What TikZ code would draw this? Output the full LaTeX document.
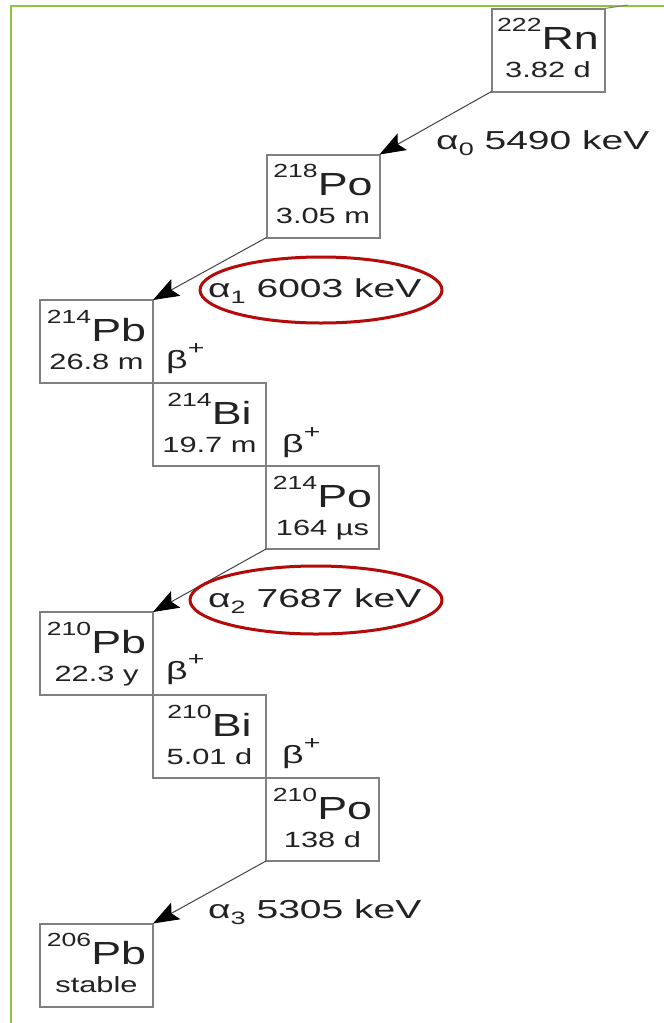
\documentclass[tikz,border=0pt]{standalone}
\usepackage{fontspec}
\setmainfont{Liberation Sans}
\newfontfamily\boxfont[FakeStretch=1.4]{Liberation Sans}
\newfontfamily\lblfont[FakeStretch=1.5]{Liberation Sans}
\usetikzlibrary{arrows.meta}
\definecolor{frame}{HTML}{8CC63F}
\definecolor{boxgray}{HTML}{808080}
\definecolor{ink}{HTML}{222222}
\definecolor{ring}{HTML}{B40A0A}
\newcommand{\nuc}[3]{{\boxfont\fontsize{32}{32}\selectfont\raisebox{18pt}{\fontsize{19}{19}\selectfont #1}#2}}
\newcommand{\halflife}[1]{{\boxfont\fontsize{22}{22}\selectfont #1}}
\newcommand{\alab}[2]{{\lblfont\fontsize{26}{26}\selectfont α\raisebox{-6pt}{\fontsize{18}{18}\selectfont #1} #2 keV}}
\newcommand{\betaplus}{{\lblfont\fontsize{25}{25}\selectfont β\raisebox{14pt}{\fontsize{19}{19}\selectfont +}}}
\begin{document}
\begin{tikzpicture}[x=1pt,y=-1pt,
  nucbox/.style={draw=boxgray,line width=2pt,fill=white,minimum width=113pt,minimum height=83pt,inner sep=0pt,outer sep=0pt},
  txt/.style={text=ink,inner sep=0pt,anchor=base},
  lbl/.style={text=ink,inner sep=0pt,anchor=base west},
  decay/.style={draw=ink!85,line width=1pt,-{Stealth[length=26pt,width=19pt,inset=5pt,color=black]}},
  ringstyle/.style={draw=ring,line width=3pt}]
\useasboundingbox (0,0) rectangle (664,1023);
\fill[white] (0,0) rectangle (664,1023);
% frame
\draw[frame,line width=2.5pt] (11,1023) -- (11,6) -- (664,6);
% boxes
\node[nucbox] (Rn) at (548,50) {};
\node[nucbox] (Po218) at (323,196) {};
\node[nucbox] (Pb214) at (96.5,341.5) {};
\node[nucbox] (Bi214) at (209.5,424.5) {};
\node[nucbox] (Po214) at (322.5,507.5) {};
\node[nucbox] (Pb210) at (96.5,653.5) {};
\node[nucbox] (Bi210) at (209.5,736.5) {};
\node[nucbox] (Po210) at (322.5,819.5) {};
\node[nucbox] (Pb206) at (96.5,965) {};
% incoming line from above
\coordinate (RaIn) at (628,5);
\draw[boxgray,line width=1pt] (RaIn) -- (Rn.north east);
% box texts
\foreach \b/\m/\e/\h in {Rn/222/Rn/3.82 d,Po218/218/Po/3.05 m,Pb214/214/Pb/26.8 m,Bi214/214/Bi/19.7 m,Po214/214/Po/164 µs,Pb210/210/Pb/22.3 y,Bi210/210/Bi/5.01 d,Po210/210/Po/138 d,Pb206/206/Pb/stable}{
  \node[txt] (\b-sym) at ([yshift=-41pt]\b.north) {\nuc{\m}{\e}{}};
  \node[txt] (\b-hl) at ([yshift=-69pt]\b.north) {\halflife{\h}};
}
% alpha decays
\draw[decay] (Rn.south west) -- (Po218.north east);
\draw[decay] (Po218.south west) -- (Pb214.north east);
\draw[decay] (Po214.south west) -- (Pb210.north east);
\draw[decay] (Po210.south west) -- (Pb206.north east);
\node[lbl] (a0) at (436,149) {\alab{0}{5490}};
\node[lbl] (a1) at (208,297) {\alab{1}{6003}};
\node[lbl] (a2) at (208,607) {\alab{2}{7687}};
\node[lbl] (a3) at (208,918) {\alab{3}{5305}};
% beta labels
\node[lbl] (b1) at (166,368) {\betaplus};
\node[lbl] (b2) at (282,452) {\betaplus};
\node[lbl] (b3) at (166,679) {\betaplus};
\node[lbl] (b4) at (282,763) {\betaplus};
% highlight ellipses
\draw[ringstyle] (321,290) ellipse [x radius=121pt,y radius=33pt];
\draw[ringstyle] (316,600) ellipse [x radius=126pt,y radius=34pt];
\end{tikzpicture}
\end{document}
